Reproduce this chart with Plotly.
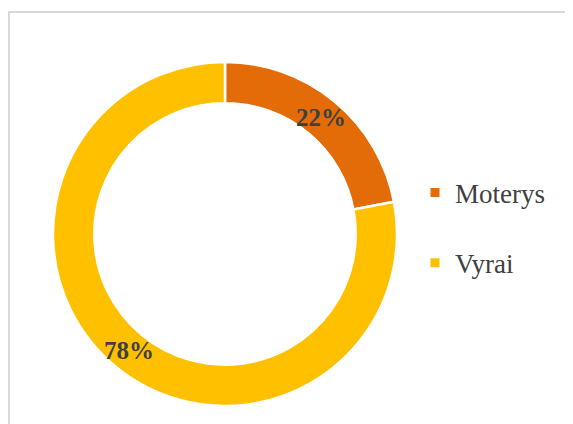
import math
import plotly.graph_objects as go

labels = ["Moterys", "Vyrai"]
values = [22, 78]
colors = ["#E36C09", "#FFC000"]

# figure size (browser body adds an 8px margin)
W, H = 565, 416
cx, cy, R = 217, 226, 172
HOLE = 0.76

fig = go.Figure()
fig.add_trace(go.Pie(
    labels=labels, values=values, hole=HOLE, sort=False,
    direction="clockwise", rotation=0,
    marker=dict(colors=colors, line=dict(color="white", width=2.5)),
    textinfo="none", showlegend=False, hoverinfo="label+percent",
    domain=dict(x=[(cx - R) / W, (cx + R) / W], y=[1 - (cy + R) / H, 1 - (cy - R) / H]),
))

for lab, col in zip(labels, colors):
    fig.add_trace(go.Scatter(
        x=[None], y=[None], mode="markers", name=lab,
        marker=dict(symbol="square", size=9, color=col),
        legendgroup=lab, showlegend=True,
    ))

# percentage labels at the middle of each ring sector
total = sum(values)
annotations = []
cum = 0
rmid = R * (1 + HOLE) / 2
for v in values:
    mid = (cum + v / 2) / total * 2 * math.pi
    cum += v
    px = cx + rmid * math.sin(mid)
    py = cy - rmid * math.cos(mid)
    annotations.append(dict(
        x=px / W, y=1 - py / H, xref="paper", yref="paper",
        text=f"<b>{round(v / total * 100)}%</b>", showarrow=False,
        xanchor="center", yanchor="middle",
        font=dict(family="Liberation Serif", size=25, color="#404040"),
    ))

fig.update_layout(
    width=W, height=H, margin=dict(l=0, r=0, t=0, b=0),
    paper_bgcolor="white", plot_bgcolor="white",
    xaxis=dict(visible=False), yaxis=dict(visible=False),
    legend=dict(x=407 / W, y=1 - 220 / H, xanchor="left", yanchor="middle",
                font=dict(family="Liberation Serif", size=27, color="#404040"),
                tracegroupgap=32, itemwidth=30),
    annotations=annotations,
    shapes=[dict(type="rect", xref="paper", yref="paper",
                 x0=1 / W, x1=1.02, y0=-0.02, y1=1 - 4 / H,
                 line=dict(color="#D9D9D9", width=2), layer="below")],
)

fig.write_html("out.html")
